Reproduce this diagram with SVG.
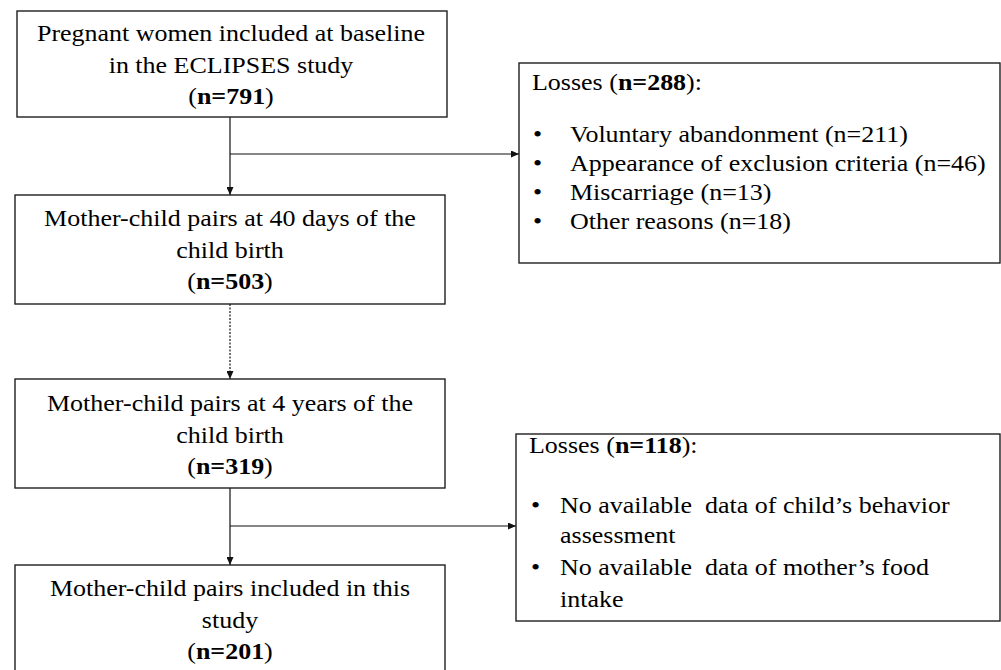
<svg xmlns="http://www.w3.org/2000/svg" width="1001" height="670" viewBox="0 0 1001 670">
<style>
  .box { fill: #ffffff; stroke: #1f1f1f; stroke-width: 1.4; }
  .t { font-family: "Liberation Serif", "Times New Roman", serif; font-size: 23px; fill: #000000; }
  .c { text-anchor: middle; }
  .b { font-weight: bold; }
  .ln { fill: none; stroke: #111111; stroke-width: 1.2; }
  .dot { stroke-dasharray: 2 1.5; }
</style>
<defs>
  <marker id="arr" markerUnits="userSpaceOnUse" markerWidth="8" markerHeight="7" viewBox="0 0 8 7" refX="8" refY="3.5" orient="auto">
    <path d="M0,0 L8,3.5 L0,7 z" fill="#111111"/>
  </marker>
</defs>
<rect width="1001" height="670" fill="#ffffff"/>

<g id="connectors">
  <line class="ln" x1="230" y1="117" x2="230" y2="195" marker-end="url(#arr)"/>
  <line class="ln" x1="230" y1="154" x2="519" y2="154" marker-end="url(#arr)"/>
  <line class="ln dot" x1="230" y1="304" x2="230" y2="379" marker-end="url(#arr)"/>
  <line class="ln" x1="230" y1="488" x2="230" y2="565" marker-end="url(#arr)"/>
  <line class="ln" x1="230" y1="526" x2="516" y2="526" marker-end="url(#arr)"/>
</g>

<g id="baseline">
  <rect class="box" x="17" y="11" width="430" height="106"/>
  <text class="t c" transform="matrix(1.13 0 0 1 231 40.5)">Pregnant women included at baseline</text>
  <text class="t c" transform="matrix(1.13 0 0 1 231 72.5)">in the ECLIPSES study</text>
  <text class="t c" transform="matrix(1.13 0 0 1 231 103.5)">(<tspan class="b">n=791</tspan>)</text>
</g>

<g id="losses1">
  <rect class="box" x="519" y="63" width="481" height="200"/>
  <text class="t" transform="matrix(1.13 0 0 1 532 89.5)">Losses (<tspan class="b">n=288</tspan>):</text>
  <text class="t" transform="matrix(1.13 0 0 1 533 142)">•</text>
  <text class="t" transform="matrix(1.13 0 0 1 570 142)">Voluntary abandonment (n=211)</text>
  <text class="t" transform="matrix(1.13 0 0 1 533 171)">•</text>
  <text class="t" transform="matrix(1.13 0 0 1 570 171)">Appearance of exclusion criteria (n=46)</text>
  <text class="t" transform="matrix(1.13 0 0 1 533 200)">•</text>
  <text class="t" transform="matrix(1.13 0 0 1 570 200)">Miscarriage (n=13)</text>
  <text class="t" transform="matrix(1.13 0 0 1 533 229)">•</text>
  <text class="t" transform="matrix(1.13 0 0 1 570 229)">Other reasons (n=18)</text>
</g>

<g id="days40">
  <rect class="box" x="15" y="195" width="430" height="109"/>
  <text class="t c" transform="matrix(1.13 0 0 1 230 225.5)">Mother-child pairs at 40 days of the</text>
  <text class="t c" transform="matrix(1.13 0 0 1 230 257.5)">child birth</text>
  <text class="t c" transform="matrix(1.13 0 0 1 230 288.5)">(<tspan class="b">n=503</tspan>)</text>
</g>

<g id="years4">
  <rect class="box" x="15" y="379" width="430" height="109"/>
  <text class="t c" transform="matrix(1.13 0 0 1 230 411)">Mother-child pairs at 4 years of the</text>
  <text class="t c" transform="matrix(1.13 0 0 1 230 443)">child birth</text>
  <text class="t c" transform="matrix(1.13 0 0 1 230 473.5)">(<tspan class="b">n=319</tspan>)</text>
</g>

<g id="losses2">
  <rect class="box" x="516" y="434" width="484" height="187"/>
  <text class="t" transform="matrix(1.13 0 0 1 529 453)">Losses (<tspan class="b">n=118</tspan>):</text>
  <text class="t" transform="matrix(1.13 0 0 1 531 513)">•</text>
  <text class="t" xml:space="preserve" transform="matrix(1.13 0 0 1 560 513)">No available  data of child’s behavior</text>
  <text class="t" transform="matrix(1.13 0 0 1 560 543)">assessment</text>
  <text class="t" transform="matrix(1.13 0 0 1 531 575)">•</text>
  <text class="t" xml:space="preserve" transform="matrix(1.13 0 0 1 560 575)">No available  data of mother’s food</text>
  <text class="t" transform="matrix(1.13 0 0 1 560 607)">intake</text>
</g>

<g id="included">
  <rect class="box" x="15" y="565" width="430" height="120"/>
  <text class="t c" transform="matrix(1.13 0 0 1 230 596)">Mother-child pairs included in this</text>
  <text class="t c" transform="matrix(1.13 0 0 1 230 627.5)">study</text>
  <text class="t c" transform="matrix(1.13 0 0 1 230 658.5)">(<tspan class="b">n=201</tspan>)</text>
</g>
</svg>
